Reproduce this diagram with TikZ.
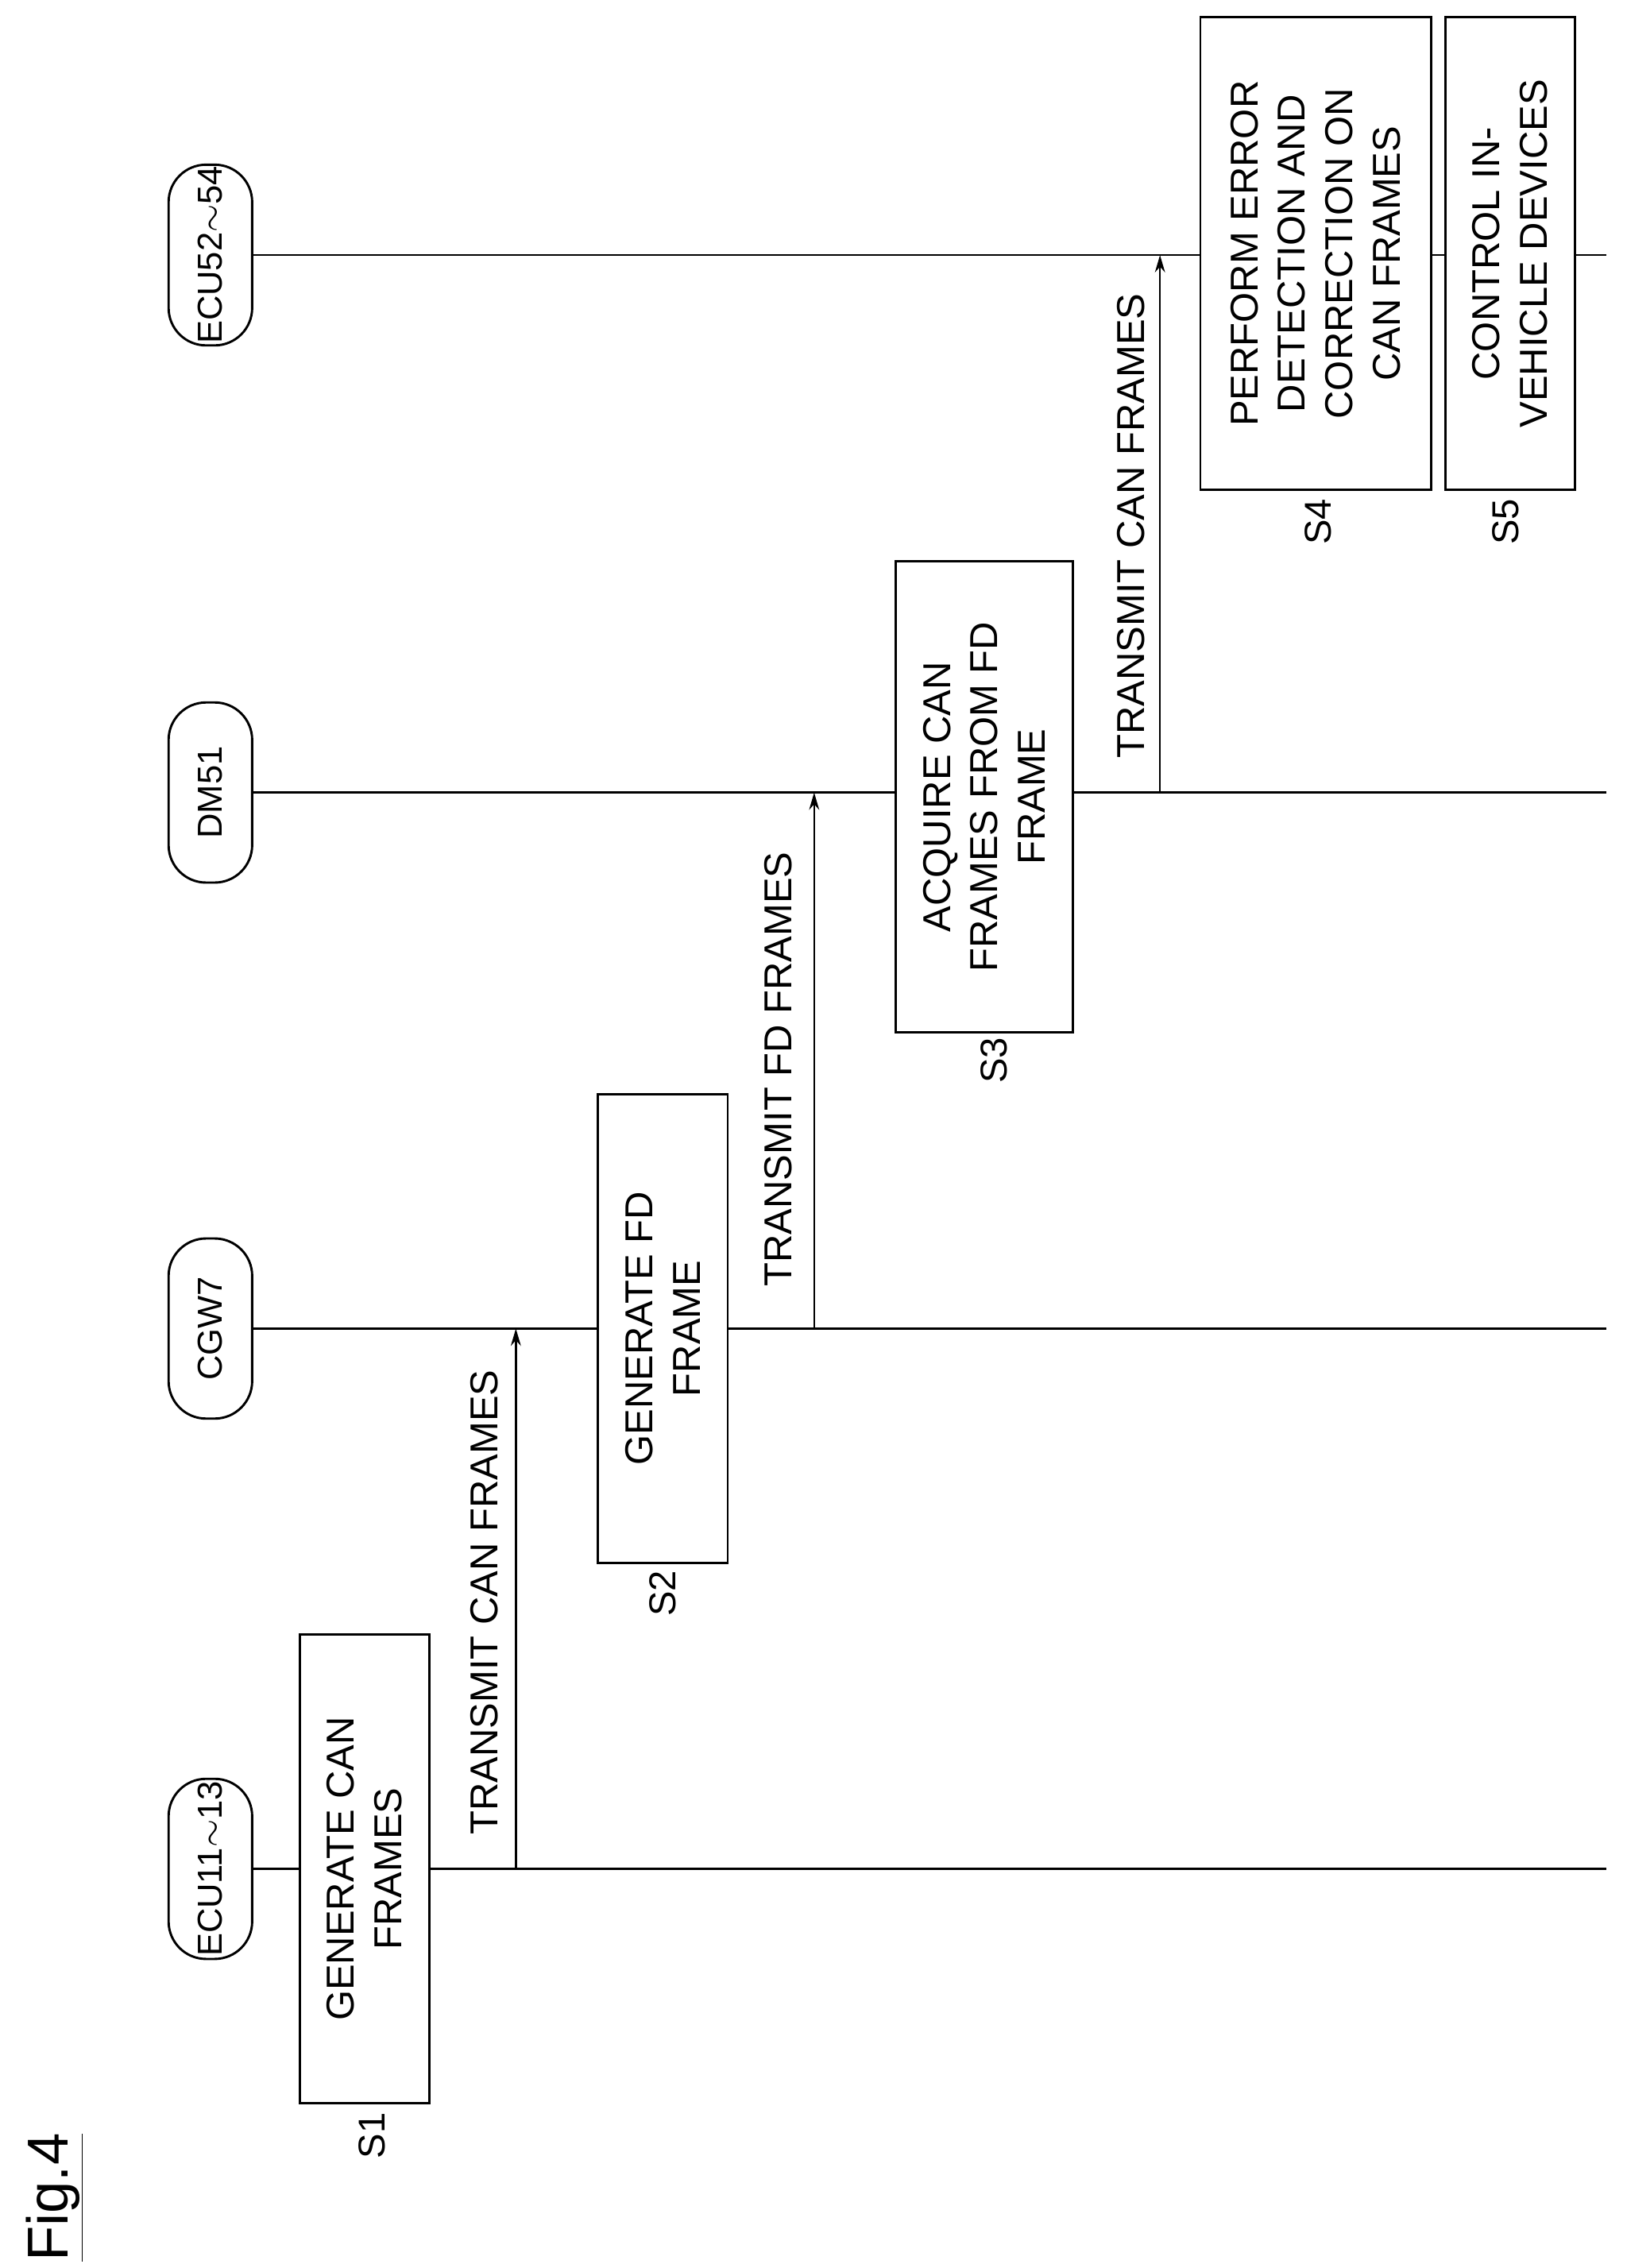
\documentclass[tikz,border=0pt]{standalone}
\usepackage{fontspec}
\setmainfont{Liberation Sans}
\usetikzlibrary{arrows.meta}
\tikzset{
  box/.style={draw,line width=1.6pt,rotate=90,align=center,inner sep=2pt,font=\fontsize{27}{33}\selectfont},
  head/.style={draw,line width=1.6pt,rotate=90,rounded corners=26pt,minimum width=125pt,minimum height=58pt,inner sep=1pt,font=\fontsize{24}{28}\selectfont},
  steplabel/.style={rotate=90,font=\fontsize{26}{30}\selectfont},
  msg/.style={draw,line width=1.4pt,-{Stealth[length=12pt,width=7pt]}},
  life/.style={draw,line width=1.4pt}
}
\begin{document}
\begin{tikzpicture}[x=1pt,y=-1pt]
\path[use as bounding box] (0,0) rectangle (1129,1574);

% figure label
\node[rotate=90,font=\fontsize{40}{44}\selectfont] (fig) at (38,1525) {\underline{Fig.4}};

% lifeline heads
\node[head] (ecuA) at (146,1297) {ECU11$\sim$13};
\node[head] (cgw) at (146,922) {CGW7};
\node[head] (dm) at (146,550) {DM51};
\node[head] (ecuB) at (146,177) {ECU52$\sim$54};

% lifelines
\coordinate (endA) at (1115,1297);
\coordinate (endC) at (1115,922);
\coordinate (endD) at (1115,550);
\coordinate (endB) at (1115,177);
\path[life] (ecuA.south) -- (endA);
\path[life] (cgw.south) -- (endC);
\path[life] (dm.south) -- (endD);
\path[life] (ecuB.south) -- (endB);

% steps
\node[box,fill=white,minimum width=325pt,minimum height=90pt] (s1) at (253,1297) {GENERATE CAN\\FRAMES};
\node[steplabel] (l1) at (258,1482) {S1};
\node[box,fill=white,minimum width=325pt,minimum height=90pt] (s2) at (460,922) {GENERATE FD\\FRAME};
\node[steplabel] (l2) at (460,1106) {S2};
\node[box,fill=white,minimum width=327pt,minimum height=123pt] (s3) at (683,553) {ACQUIRE CAN\\FRAMES FROM FD\\FRAME};
\node[steplabel] (l3) at (690,736) {S3};
\node[box,fill=white,minimum width=328pt,minimum height=160pt] (s4) at (913,176) {PERFORM ERROR\\DETECTION AND\\CORRECTION ON\\CAN FRAMES};
\node[steplabel] (l4) at (915,362) {S4};
\node[box,fill=white,minimum width=328pt,minimum height=90pt] (s5) at (1048,176) {CONTROL IN-\\VEHICLE DEVICES};
\node[steplabel] (l5) at (1045,362) {S5};

% messages
\coordinate (m1a) at (358,1297);
\coordinate (m1b) at (358,922);
\coordinate (m2a) at (565,922);
\coordinate (m2b) at (565,550);
\coordinate (m3a) at (805,550);
\coordinate (m3b) at (805,177);
\path[msg] (m1a) -- (m1b);
\path[msg] (m2a) -- (m2b);
\path[msg] (m3a) -- (m3b);
\node[steplabel,font=\fontsize{27}{30}\selectfont] (t1) at (336,1112) {TRANSMIT CAN FRAMES};
\node[steplabel,font=\fontsize{27}{30}\selectfont] (t2) at (540,742) {TRANSMIT FD FRAMES};
\node[steplabel,font=\fontsize{27}{30}\selectfont] (t3) at (785,365) {TRANSMIT CAN FRAMES};
\end{tikzpicture}
\end{document}
